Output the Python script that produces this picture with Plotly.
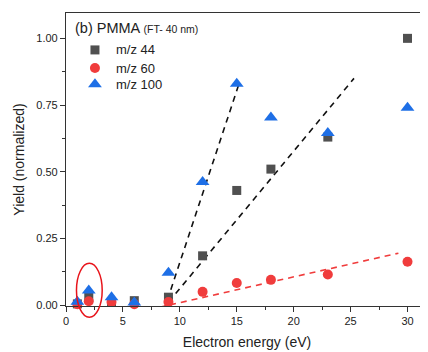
import plotly.graph_objects as go

energy = [1, 2, 4, 6, 9, 12, 15, 18, 23, 30]
mz44 = [0.005, 0.032, 0.012, 0.017, 0.03, 0.185, 0.43, 0.51, 0.63, 1.00]
mz60 = [0.004, 0.015, 0.012, 0.004, 0.012, 0.05, 0.083, 0.095, 0.115, 0.163]
mz100 = [0.013, 0.055, 0.03, 0.01, 0.122, 0.462, 0.83, 0.703, 0.645, 0.74]

fit_steep_x = [8.6, 15.2]
fit_steep_y = [-0.02, 0.83]
fit_shallow_x = [8.4, 25.3]
fit_shallow_y = [-0.02, 0.85]
fit_red_x = [8.2, 29.2]
fit_red_y = [-0.008, 0.195]

series_names = ["m/z 44", "m/z 60", "m/z 100"]
series_colors = ["#505050", "#F03C3C", "#1E6FE6"]
series_symbols = ["square", "circle", "triangle-up"]
series_sizes = [9, 10, 12]

x_range = [0, 31.8]
y_range = [-0.003, 1.095]

font = "Liberation Sans, Arial, sans-serif"
txt = "#222222"

fig = go.Figure()
for fx, fy, col in [(fit_steep_x, fit_steep_y, "#111111"),
                    (fit_shallow_x, fit_shallow_y, "#111111"),
                    (fit_red_x, fit_red_y, "#F03C3C")]:
    fig.add_trace(go.Scatter(x=fx, y=fy, mode="lines", showlegend=False,
                             line=dict(color=col, width=1.6, dash="6px,5px"),
                             hoverinfo="skip"))

for vals, name, col, sym, sz in zip([mz44, mz60, mz100], series_names,
                                    series_colors, series_symbols, series_sizes):
    fig.add_trace(go.Scatter(x=energy, y=vals, mode="markers", name=name,
                             showlegend=False,
                             marker=dict(symbol=sym, size=sz, color=col),
                             cliponaxis=False))

# custom legend on an overlaid unit axis
leg_x = 0.080
leg_y = [0.874, 0.812, 0.757]
for yy, name, col, sym, sz in zip(leg_y, series_names, series_colors,
                                  series_symbols, series_sizes):
    fig.add_trace(go.Scatter(x=[leg_x], y=[yy], xaxis="x2", yaxis="y2",
                             mode="markers", showlegend=False, hoverinfo="skip",
                             marker=dict(symbol=sym, size=sz, color=col),
                             cliponaxis=False))
    fig.add_annotation(x=0.133, y=yy, xref="paper", yref="paper",
                       xanchor="left", yanchor="middle", showarrow=False,
                       text=name, font=dict(family=font, size=13, color=txt))

fig.add_annotation(x=0.018, y=0.949, xref="paper", yref="paper",
                   xanchor="left", yanchor="middle", showarrow=False,
                   text="(b) PMMA <span style='font-size:10.5px'>(FT- 40 nm)</span>",
                   font=dict(family=font, size=14.5, color=txt))

# red ellipse around the 2 eV points (data coords converted to paper)
ell_x = [0.92, 3.18]
ell_y = [-0.045, 0.157]
def px(v):
    return (v - x_range[0]) / (x_range[1] - x_range[0])
def py(v):
    return (v - y_range[0]) / (y_range[1] - y_range[0])
fig.add_shape(type="circle", xref="paper", yref="paper",
              x0=px(ell_x[0]), x1=px(ell_x[1]), y0=py(ell_y[0]), y1=py(ell_y[1]),
              line=dict(color="#E8141B", width=1.5))

axis_common = dict(showline=True, linecolor="#333333", linewidth=1.2,
                   ticks="outside", ticklen=5, tickwidth=1, tickcolor="#333333",
                   showgrid=False, zeroline=False,
                   tickfont=dict(family=font, size=11, color=txt),
                   minor=dict(ticks="outside", ticklen=3, tickcolor="#333333"))

fig.update_layout(
    width=428, height=352,
    margin=dict(l=58, r=8, t=5, b=54),
    plot_bgcolor="white", paper_bgcolor="white",
    showlegend=False,
    xaxis=dict(range=x_range, tickvals=[0, 5, 10, 15, 20, 25, 30],
               minor_tickvals=[2.5, 7.5, 12.5, 17.5, 22.5, 27.5],
               title=dict(text="Electron energy (eV)", standoff=10,
                          font=dict(family=font, size=14, color=txt)),
               mirror=True, **axis_common),
    yaxis=dict(range=y_range, tickvals=[0, 0.25, 0.5, 0.75, 1.0], tickformat=".2f",
               minor_tickvals=[0.125, 0.375, 0.625, 0.875],
               title=dict(text="Yield (normalized)", standoff=8,
                          font=dict(family=font, size=14, color=txt)),
               **axis_common),
    xaxis2=dict(range=[0, 1], overlaying="x", visible=False, fixedrange=True),
    yaxis2=dict(range=[0, 1], overlaying="y", visible=False, fixedrange=True),
)

fig.write_html("out.html")
